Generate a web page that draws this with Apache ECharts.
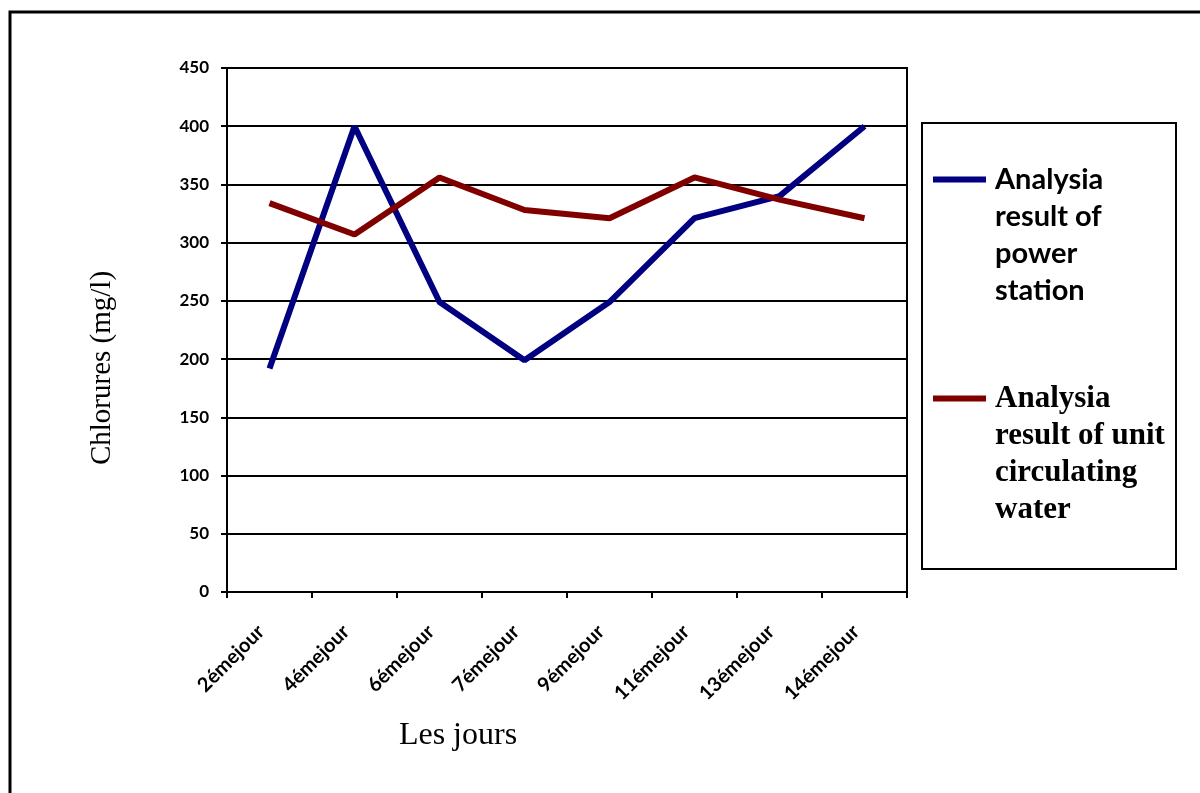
<!DOCTYPE html>
<html>
<head>
<meta charset="utf-8">
<script src="https://cdn.jsdelivr.net/npm/echarts@6/dist/echarts.min.js"></script>
<style>
  html, body { margin: 0; padding: 0; background: #fff; }
  #chart { width: 1200px; height: 793px; }
</style>
</head>
<body>
<div id="chart"></div>
<script>
// Sampling days (x axis)
const days = ['2émejour', '4émejour', '6émejour', '7émejour', '9émejour', '11émejour', '13émejour', '14émejour'];

// Chloride concentration, mg/l
const powerStation = [192, 400, 249, 199, 249, 321, 340, 400];
const circulatingWater = [334, 307, 356, 328, 321, 356, 337, 321];

const seriesNames = ['Analysia result of power station', 'Analysia result of unit circulating water'];

// Legend label lines for each series
const legendLines = {
  [seriesNames[0]]: ['Analysia', 'result of', 'power', 'station'],
  [seriesNames[1]]: ['Analysia', 'result of unit', 'circulating', 'water']
};

const chart = echarts.init(document.getElementById('chart'));

// Three blank lines in front keep the legend icon level with the first text line
function legendText(name, style) {
  return '\n\n\n' + legendLines[name].map(l => '{' + style + '|' + l + '}').join('\n');
}

chart.setOption({
  animation: false,
  backgroundColor: '#fff',
  color: ['#000080', '#800000'],
  grid: {
    left: 227, right: 293, top: 68, bottom: 201,
    show: true, borderColor: '#000', borderWidth: 2, backgroundColor: 'transparent'
  },
  graphic: [
    { type: 'rect', z: -1, shape: { x: 10, y: 12, width: 1300, height: 900 },
      style: { fill: null, stroke: '#000', lineWidth: 3 } },
    { type: 'rect', z: -1, shape: { x: 922, y: 123, width: 254, height: 446 },
      style: { fill: null, stroke: '#000', lineWidth: 2 } }
  ],
  legend: [
    {
      data: [seriesNames[0]],
      orient: 'vertical', left: 933, top: 50, padding: 0,
      icon: 'rect', itemWidth: 53, itemHeight: 6,
      formatter: name => legendText(name, 's'),
      textStyle: {
        lineHeight: 37,
        rich: { s: { fontFamily: 'Lato', fontWeight: 'bold', fontSize: 29, color: '#000', lineHeight: 37, padding: [0, 0, 0, 4] } }
      }
    },
    {
      data: [seriesNames[1]],
      orient: 'vertical', left: 933, top: 269, padding: 0,
      icon: 'rect', itemWidth: 53, itemHeight: 6,
      formatter: name => legendText(name, 't'),
      textStyle: {
        lineHeight: 37,
        rich: { t: { fontFamily: 'Liberation Serif', fontWeight: 'bold', fontSize: 31, color: '#000', lineHeight: 37, padding: [0, 0, 0, 4] } }
      }
    }
  ],
  xAxis: {
    type: 'category',
    data: days,
    boundaryGap: true,
    name: 'Les jours',
    nameLocation: 'middle',
    nameGap: 128,
    nameTextStyle: { fontFamily: 'Liberation Serif', fontSize: 32, color: '#000', padding: [0, 218, 0, 0] },
    axisLine: { lineStyle: { color: '#000', width: 2 } },
    axisTick: { show: true, length: 6, lineStyle: { color: '#000', width: 2 } },
    axisLabel: {
      interval: 0, rotate: 45, margin: 28, padding: [0, 12, 0, 0],
      fontFamily: 'Lato', fontWeight: 'bold', fontSize: 20, color: '#000'
    },
    splitLine: { show: false }
  },
  yAxis: {
    type: 'value',
    min: 0, max: 450, interval: 50,
    name: 'Chlorures (mg/l)',
    nameLocation: 'middle',
    nameGap: 110,
    nameTextStyle: { fontFamily: 'Liberation Serif', fontSize: 29, color: '#000', padding: [0, 76, 0, 0] },
    axisLine: { show: true, lineStyle: { color: '#000', width: 2 } },
    axisTick: { show: true, length: 6, lineStyle: { color: '#000', width: 2 } },
    axisLabel: { margin: 18, fontFamily: 'Lato', fontWeight: 'bold', fontSize: 17, color: '#000' },
    splitLine: { show: true, lineStyle: { color: '#000', width: 2 } }
  },
  series: [
    {
      name: seriesNames[0], type: 'line', data: powerStation,
      symbol: 'none', lineStyle: { width: 6, color: '#000080' }, itemStyle: { color: '#000080' }
    },
    {
      name: seriesNames[1], type: 'line', data: circulatingWater,
      symbol: 'none', lineStyle: { width: 6, color: '#800000' }, itemStyle: { color: '#800000' }
    }
  ]
});
</script>
</body>
</html>
